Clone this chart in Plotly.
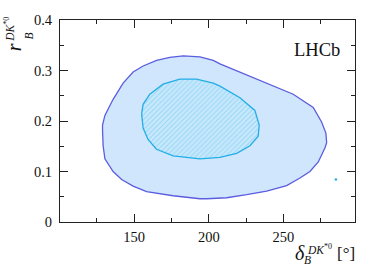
import plotly.graph_objects as go

# 95% (outer) and 68% (inner) confidence regions, delta_B [deg] vs r_B
outer_delta = [128.8, 128.8, 130.4, 135.9, 142.6, 149.3, 156.0, 165.0, 173.9, 182.9,
               194.1, 203.0, 207.5, 223.1, 238.8, 256.6, 270.0, 275.6, 278.5, 279.0,
               277.9, 273.4, 267.8, 261.1, 252.2, 238.8, 225.4, 212.0, 198.5, 194.1,
               176.1, 158.3, 149.3, 141.6, 135.9, 130.4, 129.2, 128.8]
outer_r = [0.182, 0.192, 0.211, 0.243, 0.275, 0.297, 0.309, 0.320, 0.326, 0.329,
           0.327, 0.320, 0.313, 0.294, 0.275, 0.253, 0.227, 0.198, 0.176, 0.157,
           0.147, 0.119, 0.100, 0.087, 0.072, 0.061, 0.054, 0.048, 0.046, 0.046,
           0.052, 0.060, 0.071, 0.084, 0.100, 0.125, 0.151, 0.182]

inner_delta = [155.0, 156.0, 160.5, 169.4, 180.6, 191.8, 203.0, 207.5, 220.9, 230.9,
               233.8, 233.1, 227.6, 218.7, 207.5, 194.1, 176.1, 165.0, 159.4, 156.0, 155.0]
inner_r = [0.214, 0.233, 0.253, 0.273, 0.283, 0.283, 0.275, 0.269, 0.246, 0.221,
           0.192, 0.170, 0.151, 0.136, 0.128, 0.125, 0.131, 0.144, 0.163, 0.186, 0.214]

island_delta = [285.2]
island_r = [0.084]

x_ticks = [150, 200, 250]
x_ticklabels = ["150", "200", "250"]
y_ticks = [0, 0.1, 0.2, 0.3, 0.4]
y_ticklabels = ["0", "0.1", "0.2", "0.3", "0.4"]

SERIF = "Liberation Serif"
L, R, T, B = 60, 18.5, 13, 46
W, H = 374, 268
PW, PH = W - L - R, H - T - B


def pp(px, py):
    return (px - L) / PW, (H - B - py) / PH


fig = go.Figure()
fig.add_trace(go.Scatter(x=outer_delta, y=outer_r, mode="lines", fill="toself",
                         fillcolor="#d0e6fd", line=dict(color="#5c5ce0", width=1.3),
                         hoverinfo="skip", showlegend=False))
fig.add_trace(go.Scatter(x=inner_delta, y=inner_r, mode="lines", fill="toself",
                         fillcolor="#c4e6fb",
                         fillpattern=dict(shape="/", fgcolor="#66c8f0", bgcolor="#c8e8fc",
                                          size=3.5, solidity=0.3),
                         line=dict(color="#22aee6", width=1.3),
                         hoverinfo="skip", showlegend=False))
fig.add_trace(go.Scatter(x=island_delta, y=island_r, mode="markers",
                         marker=dict(color="#22aee6", size=2.5),
                         hoverinfo="skip", showlegend=False))

axis_common = dict(showgrid=False, zeroline=False, showline=True, linecolor="#222",
                   linewidth=1, mirror="ticks", ticks="inside", ticklen=8,
                   tickcolor="#222", tickwidth=1,
                   tickfont=dict(family=SERIF, size=14.5, color="#111"))
fig.update_xaxes(range=[100.3, 298], tickvals=x_ticks, ticktext=x_ticklabels,
                 minor=dict(dtick=25, tick0=0, ticks="inside", ticklen=4,
                            tickcolor="#222"), ticklabelstandoff=2, **axis_common)
fig.update_yaxes(range=[0, 0.4], tickvals=y_ticks, ticktext=y_ticklabels,
                 minor=dict(dtick=0.05, tick0=0, ticks="inside", ticklen=4,
                            tickcolor="#222"), ticklabelstandoff=4, **axis_common)

ann = []


def add_text(text, px, py, size, angle=0, xanchor="center"):
    x, y = pp(px, py)
    ann.append(dict(text=text, x=x, y=y, xref="paper", yref="paper", showarrow=False,
                    xanchor=xanchor, yanchor="middle", textangle=angle,
                    font=dict(family=SERIF, size=size, color="#111")))


# x-axis title: delta_B^{DK*0} [deg]
add_text("<i>δ</i>", 300, 254, 20)
add_text("<i>B</i>", 307.5, 261, 11.5)
add_text("<i>DK</i><sup>*0</sup>", 305, 250, 11.5, xanchor="left")
add_text("[°]", 346.5, 255, 17)
# y-axis title: r_B^{DK*0}
add_text("<i>r</i>", 14, 41, 20, angle=-90)
add_text("<i>B</i>", 29, 30, 11.5, angle=-90)
add_text("<i>DK</i><sup>*0</sup>", 9, 23, 11.5, angle=-90)
# experiment label
add_text("LHCb", 317.5, 44, 18.5)

fig.update_layout(width=W, height=H, margin=dict(l=L, r=R, t=T, b=B, pad=0),
                  plot_bgcolor="white", paper_bgcolor="white",
                  font=dict(family=SERIF, color="#111"),
                  annotations=ann, showlegend=False)

fig.write_html("out.html", config={"displayModeBar": False, "staticPlot": True},
               post_script="document.body.style.margin='0';document.body.style.overflow='hidden';")
